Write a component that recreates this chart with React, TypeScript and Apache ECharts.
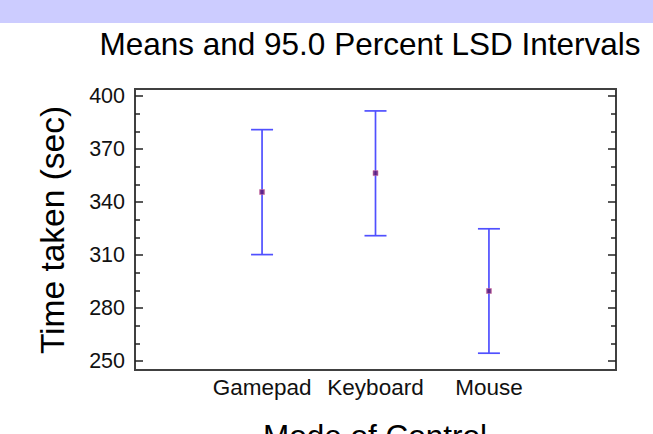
import React, { useEffect, useRef } from "react";
import * as echarts from "echarts";

const categories = ["Gamepad", "Keyboard", "Mouse"];
const means = [345.7, 356.4, 289.7];
const lower = [310.3, 321.0, 254.5];
const upper = [381.0, 391.6, 324.9];
const yMajorTicks = [250, 280, 310, 340, 370, 400];
const yMinorTicks = [260, 270, 290, 300, 320, 330, 350, 360, 380, 390];
const catPositions = [1, 2, 3];

const FONT = "'Liberation Sans', Arial, sans-serif";

export default function App() {
  const ref = useRef<HTMLDivElement>(null);
  useEffect(() => {
    if (!ref.current) return;
    const chart = echarts.init(ref.current, null, { renderer: "svg" });
    const yBase = { type: "value", min: 245, max: 404, splitLine: { show: false }, axisLine: { show: false, onZero: false } };
    const xBase = { type: "value", min: -0.12, max: 4.12, splitLine: { show: false }, axisLine: { show: false, onZero: false }, axisTick: { show: false } };
    const tickStyle = { color: "#222", width: 1.5 };
    const gridBox = { left: 135, top: 89, width: 481, height: 281 };
    chart.setOption({
      animation: false,
      backgroundColor: "#ffffff",
      grid: [
        { ...gridBox, show: true, borderColor: "#404040", borderWidth: 2, backgroundColor: "transparent" },
        { ...gridBox, show: false },
      ],
      xAxis: [
        {
          ...xBase,
          gridIndex: 0,
          axisLabel: {
            customValues: catPositions,
            formatter: (v: number) => categories[Math.round(v) - 1] ?? "",
            fontSize: 22.5,
            fontFamily: FONT,
            color: "#111",
            margin: 6,
          },
        },
        { ...xBase, gridIndex: 1, axisLabel: { show: false } },
      ],
      yAxis: [
        {
          ...yBase,
          gridIndex: 0,
          position: "left",
          axisTick: { show: true, inside: true, length: 8, customValues: yMajorTicks, lineStyle: tickStyle },
          axisLabel: { customValues: yMajorTicks, fontSize: 21.5, fontFamily: FONT, color: "#111", margin: 10 },
        },
        {
          ...yBase,
          gridIndex: 0,
          position: "right",
          axisTick: { show: true, inside: true, length: 8, customValues: yMajorTicks, lineStyle: tickStyle },
          axisLabel: { show: false },
        },
        {
          ...yBase,
          gridIndex: 1,
          position: "left",
          axisTick: { show: true, inside: true, length: 5, customValues: yMinorTicks, lineStyle: tickStyle },
          axisLabel: { show: false },
        },
        {
          ...yBase,
          gridIndex: 1,
          position: "right",
          axisTick: { show: true, inside: true, length: 5, customValues: yMinorTicks, lineStyle: tickStyle },
          axisLabel: { show: false },
        },
      ],
      series: [
        {
          type: "custom",
          xAxisIndex: 0,
          yAxisIndex: 0,
          data: catPositions.map((p, i) => [p, lower[i], upper[i]]),
          renderItem: (params: any, api: any) => {
            const x = api.value(0);
            const lo = api.coord([x, api.value(1)]);
            const hi = api.coord([x, api.value(2)]);
            const hw = 11;
            const style = { stroke: "#5050ff", lineWidth: 1.7 };
            return {
              type: "group",
              children: [
                { type: "line", shape: { x1: lo[0], y1: lo[1], x2: hi[0], y2: hi[1] }, style },
                { type: "line", shape: { x1: hi[0] - hw, y1: hi[1], x2: hi[0] + hw, y2: hi[1] }, style },
                { type: "line", shape: { x1: lo[0] - hw, y1: lo[1], x2: lo[0] + hw, y2: lo[1] }, style },
              ],
            };
          },
        },
        {
          type: "scatter",
          xAxisIndex: 0,
          yAxisIndex: 0,
          data: catPositions.map((p, i) => [p, means[i]]),
          symbol: "rect",
          symbolSize: 5,
          itemStyle: { color: "#5a1070", borderColor: "rgba(210,110,160,0.7)", borderWidth: 1 },
        },
      ],
      graphic: [
        { type: "rect", shape: { x: 0, y: 0, width: 653, height: 23 }, style: { fill: "#ccccff" }, z: -1 },
        {
          type: "text",
          x: 370,
          y: 44,
          style: {
            text: "Means and 95.0 Percent LSD Intervals",
            fontSize: 31.5,
            fontFamily: FONT,
            fill: "#000",
            textAlign: "center",
            textVerticalAlign: "middle",
          },
        },
        {
          type: "text",
          x: 52,
          y: 230,
          rotation: Math.PI / 2,
          style: {
            text: "Time taken (sec)",
            fontSize: 33.5,
            fontFamily: FONT,
            fill: "#000",
            textAlign: "center",
            textVerticalAlign: "middle",
          },
        },
        {
          type: "text",
          x: 375,
          y: 436,
          style: {
            text: "Mode of Control",
            fontSize: 31.5,
            fontFamily: FONT,
            fill: "#000",
            textAlign: "center",
            textVerticalAlign: "middle",
          },
        },
      ],
    });
    return () => chart.dispose();
  }, []);
  return (
    <div
      ref={ref}
      style={{ position: "fixed", left: 0, top: 0, width: 653, height: 434 }}
    />
  );
}
